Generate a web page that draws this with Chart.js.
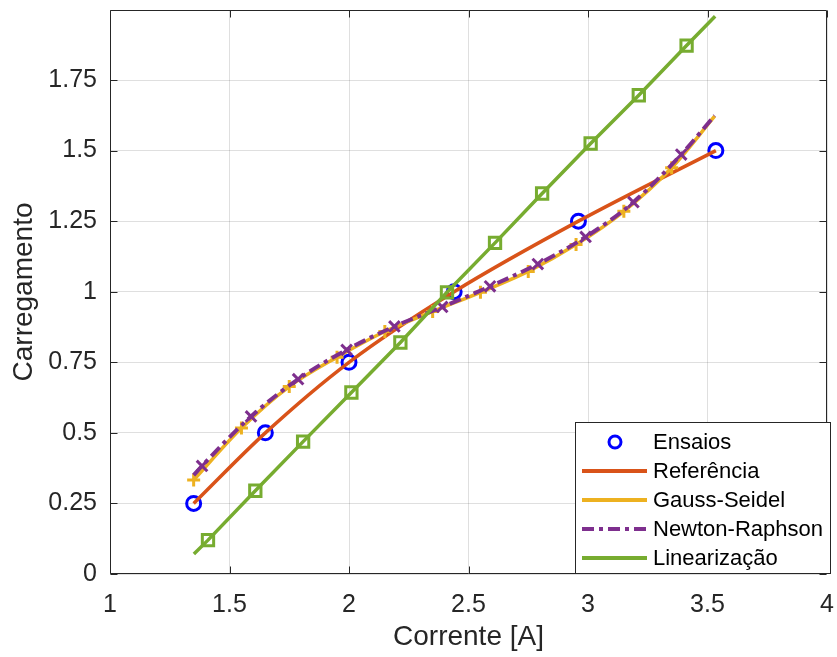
<!DOCTYPE html>
<html>
<head>
<meta charset="utf-8">
<script src="https://cdn.jsdelivr.net/npm/chart.js@4.4.0/dist/chart.umd.min.js"></script>
<style>
  html, body { margin: 0; padding: 0; background: #ffffff; }
  #wrap { width: 837px; height: 657px; position: relative; }
</style>
</head>
<body>
<div id="wrap"><canvas id="c" width="837" height="657"></canvas></div>
<script>
// ---- data ----
const xTicks = [1, 1.5, 2, 2.5, 3, 3.5, 4];
const yTicks = [0, 0.25, 0.5, 0.75, 1, 1.25, 1.5, 1.75];

const ensaiosX = [1.35, 1.65, 2.0, 2.44, 2.96, 3.535];
const ensaiosY = [0.25, 0.5, 0.75, 1.0, 1.25, 1.5];

const gaussX = [1.35, 1.55, 1.75, 1.95, 2.15, 2.35, 2.55, 2.75, 2.95, 3.15, 3.35, 3.53];
const gaussY = [0.333, 0.517, 0.664, 0.768, 0.859, 0.930, 0.998, 1.072, 1.167, 1.285, 1.439, 1.622];

const newtonX = [1.35, 1.385, 1.59, 1.787, 1.99, 2.19, 2.39, 2.59, 2.79, 2.99, 3.19, 3.39, 3.53];
const newtonY = [0.35, 0.383, 0.558, 0.690, 0.794, 0.877, 0.946, 1.019, 1.098, 1.194, 1.317, 1.486, 1.624];

const linX = [1.351, 1.41, 1.608, 1.808, 2.01, 2.215, 2.41, 2.611, 2.808, 3.011, 3.2125, 3.4125, 3.532];
const linY = [0.071, 0.12, 0.295, 0.469, 0.643, 0.820, 0.998, 1.173, 1.348, 1.525, 1.696, 1.872, 1.976];

const xLabel = 'Corrente [A]';
const yLabel = 'Carregamento';

// ---- helpers ----
const pts = (xs, ys) => xs.map((x, i) => ({ x: x, y: ys[i] }));
const FONT = "'Liberation Sans', Arial, sans-serif";
const AX = '#262626';

const datasets = [
  {
    label: 'Ensaios', data: pts(ensaiosX, ensaiosY), showLine: false,
    pointStyle: 'circle', pointRadius: 7, pointBorderWidth: 3,
    borderColor: '#0000ff', backgroundColor: 'rgba(0,0,0,0)',
    pointBackgroundColor: 'rgba(0,0,0,0)', order: 5,
    legendKind: 'marker'
  },
  {
    label: 'Referência', data: pts(ensaiosX, ensaiosY), showLine: true,
    borderColor: '#D95319', borderWidth: 3.5, pointRadius: 0,
    cubicInterpolationMode: 'monotone', order: 4, legendKind: 'line'
  },
  {
    label: 'Gauss-Seidel', data: pts(gaussX, gaussY), showLine: true,
    borderColor: '#EDB120', borderWidth: 3.5,
    pointStyle: 'cross', pointBorderWidth: 3,
    pointRadius: (ctx) => (ctx.dataIndex === ctx.dataset.data.length - 1 ? 0 : 6.5),
    pointBorderColor: '#EDB120',
    cubicInterpolationMode: 'monotone', order: 3, legendKind: 'line'
  },
  {
    label: 'Newton-Raphson', data: pts(newtonX, newtonY), showLine: true,
    borderColor: '#7E2F8E', borderWidth: 4, borderDash: [12, 5, 4, 5],
    pointStyle: 'crossRot', pointBorderWidth: 3,
    pointRadius: (ctx) => (ctx.dataIndex === 0 || ctx.dataIndex === ctx.dataset.data.length - 1 ? 0 : 7.5),
    pointBorderColor: '#7E2F8E',
    cubicInterpolationMode: 'monotone', order: 2, legendKind: 'dash'
  },
  {
    label: 'Linearização', data: pts(linX, linY), showLine: true,
    borderColor: '#77AC30', borderWidth: 3.5,
    pointStyle: 'rect', pointBorderWidth: 3,
    pointRadius: (ctx) => (ctx.dataIndex === 0 || ctx.dataIndex === ctx.dataset.data.length - 1 ? 0 : 8),
    pointBorderColor: '#77AC30', pointBackgroundColor: 'rgba(0,0,0,0)',
    order: 1, legendKind: 'line'
  }
];

// box, inward ticks and legend drawn on top
const matlabAxes = {
  id: 'matlabAxes',
  afterDatasetsDraw(chart) {
    const { ctx, chartArea: a, scales } = chart;
    const L = Math.round(a.left) + 0.5, R = Math.round(a.right) - 0.5;
    const T = Math.round(a.top) + 0.5, B = Math.round(a.bottom) - 0.5;
    ctx.save();
    ctx.strokeStyle = AX;
    ctx.lineWidth = 1;
    ctx.setLineDash([]);
    ctx.beginPath();
    ctx.rect(L, T, R - L, B - T);
    ctx.stroke();
    const tl = 7;
    ctx.beginPath();
    xTicks.forEach(v => {
      const x = Math.round(scales.x.getPixelForValue(v)) + 0.5;
      ctx.moveTo(x, B); ctx.lineTo(x, B - tl);
      ctx.moveTo(x, T); ctx.lineTo(x, T + tl);
    });
    yTicks.forEach(v => {
      const y = Math.round(scales.y.getPixelForValue(v)) + 0.5;
      ctx.moveTo(L, y); ctx.lineTo(L + tl, y);
      ctx.moveTo(R, y); ctx.lineTo(R - tl, y);
    });
    ctx.stroke();

    // legend
    const lx = 575.5, ly = 422.5, lw = 255, lh = 151;
    ctx.fillStyle = '#ffffff';
    ctx.fillRect(lx, ly, lw, lh);
    ctx.strokeStyle = '#262626';
    ctx.lineWidth = 1;
    ctx.strokeRect(lx, ly, lw, lh);
    const rowH = 29, y0 = 442;
    ctx.font = '22px ' + FONT;
    ctx.textBaseline = 'middle';
    ctx.textAlign = 'left';
    chart.data.datasets.forEach((ds, i) => {
      const y = y0 + i * rowH;
      const col = ds.borderColor;
      ctx.strokeStyle = col;
      if (ds.legendKind === 'marker') {
        ctx.lineWidth = 3;
        ctx.beginPath();
        ctx.arc(615, y, 6, 0, Math.PI * 2);
        ctx.stroke();
      } else {
        ctx.lineWidth = 4;
        ctx.setLineDash(ds.legendKind === 'dash' ? [12, 5, 4, 5] : []);
        ctx.beginPath();
        ctx.moveTo(582, y); ctx.lineTo(647, y);
        ctx.stroke();
        ctx.setLineDash([]);
      }
      ctx.fillStyle = '#000000';
      ctx.fillText(ds.label, 653, y + 1);
    });
    ctx.restore();
  }
};

const fmt = v => String(Math.round(v * 100) / 100);
const noPad = (s) => { s.paddingTop = 0; s.paddingBottom = 0; s.paddingLeft = 0; s.paddingRight = 0; };

new Chart(document.getElementById('c'), {
  type: 'scatter',
  data: { datasets },
  options: {
    responsive: false,
    animation: false,
    events: [],
    layout: { padding: { top: 10, right: 7, left: 0, bottom: 0 } },
    plugins: { legend: { display: false }, tooltip: { enabled: false } },
    scales: {
      x: {
        type: 'linear', min: 1, max: 4,
        afterBuildTicks: (s) => { s.ticks = xTicks.map(v => ({ value: v })); },
        afterFit: (s) => { s.height = 83; noPad(s); },
        ticks: { callback: fmt, color: AX, font: { family: FONT, size: 25 }, padding: 16, maxRotation: 0, autoSkip: false },
        grid: { color: 'rgba(38,38,38,0.15)', drawTicks: false, lineWidth: 1 },
        border: { display: false },
        title: { display: true, text: xLabel, color: AX, font: { family: FONT, size: 28 }, padding: { top: 0, bottom: 3 } }
      },
      y: {
        type: 'linear', min: 0, max: 1.998,
        afterBuildTicks: (s) => { s.ticks = yTicks.map(v => ({ value: v })); },
        afterFit: (s) => { s.width = 110; noPad(s); },
        ticks: { callback: fmt, color: AX, font: { family: FONT, size: 25 }, padding: 13, autoSkip: false },
        grid: { color: 'rgba(38,38,38,0.15)', drawTicks: false, lineWidth: 1 },
        border: { display: false },
        title: { display: true, text: yLabel, color: AX, font: { family: FONT, size: 28 }, padding: { top: 7, bottom: 0 } }
      }
    }
  },
  plugins: [matlabAxes]
});
</script>
</body>
</html>
